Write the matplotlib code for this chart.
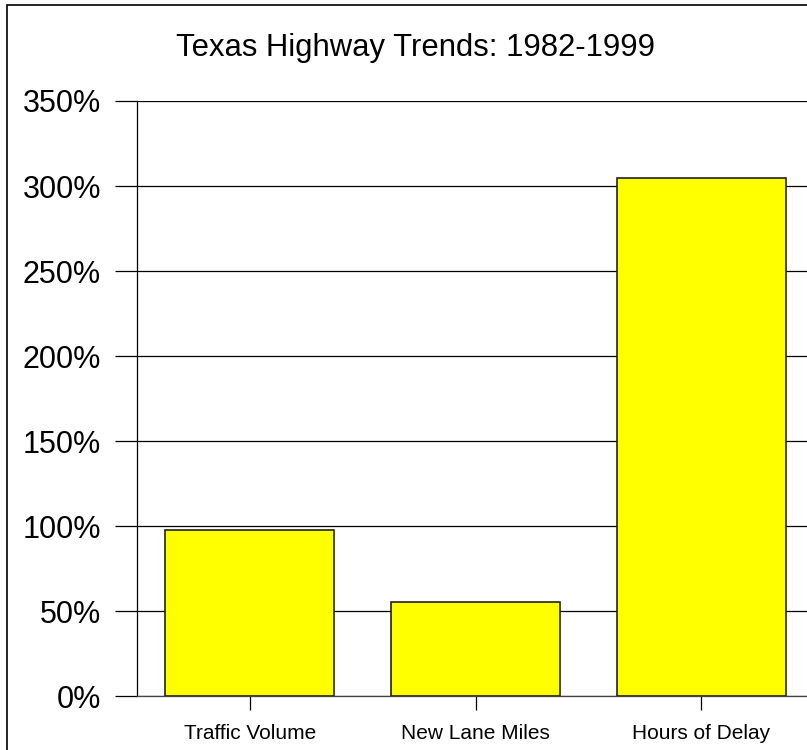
import matplotlib.pyplot as plt
from matplotlib.patches import Rectangle

categories = ["Traffic Volume", "New Lane Miles", "Hours of Delay"]
growth_pct = [98, 55.5, 305]
y_ticks = [0, 50, 100, 150, 200, 250, 300, 350]

plt.rcParams["font.family"] = ["Liberation Sans", "DejaVu Sans"]

W, H = 807, 750
fig = plt.figure(figsize=(W / 100, H / 100), dpi=100)

# border around the chart area (right/bottom run off the image)
fig.patches.append(
    Rectangle((7 / W, -0.1), 1.2, 1 - 5 / H + 0.1, transform=fig.transFigure,
              fill=False, edgecolor="black", linewidth=1.2)
)

ax = fig.add_axes([137 / W, 53.7 / H, 677 / W, 595.3 / H])
x = range(len(categories))
ax.bar(x, growth_pct, width=0.75, color="#ffff00", edgecolor="#222222",
       linewidth=1.2, zorder=3)

ax.set_xlim(-0.5, 2.5)
ax.set_ylim(0, 350)
ax.set_yticks(y_ticks)
ax.set_yticklabels([f"{v}%" for v in y_ticks])
ax.set_xticks(list(x))
ax.set_xticklabels(categories)
ax.yaxis.grid(True, color="black", linewidth=0.9, zorder=0)
ax.set_axisbelow(True)

ax.tick_params(axis="y", length=16, width=0.9, pad=10, labelsize=22)
ax.tick_params(axis="x", length=10, width=0.9, pad=10, labelsize=15)
for s in ["top", "right"]:
    ax.spines[s].set_visible(False)
for s in ["left", "bottom"]:
    ax.spines[s].set_linewidth(0.9)
ax.spines["bottom"].set_color("#444444")

fig.text(416 / W, 1 - 48 / H, "Texas Highway Trends: 1982-1999",
         ha="center", va="center", fontsize=22.3)

fig.savefig("out.png", dpi=100)
